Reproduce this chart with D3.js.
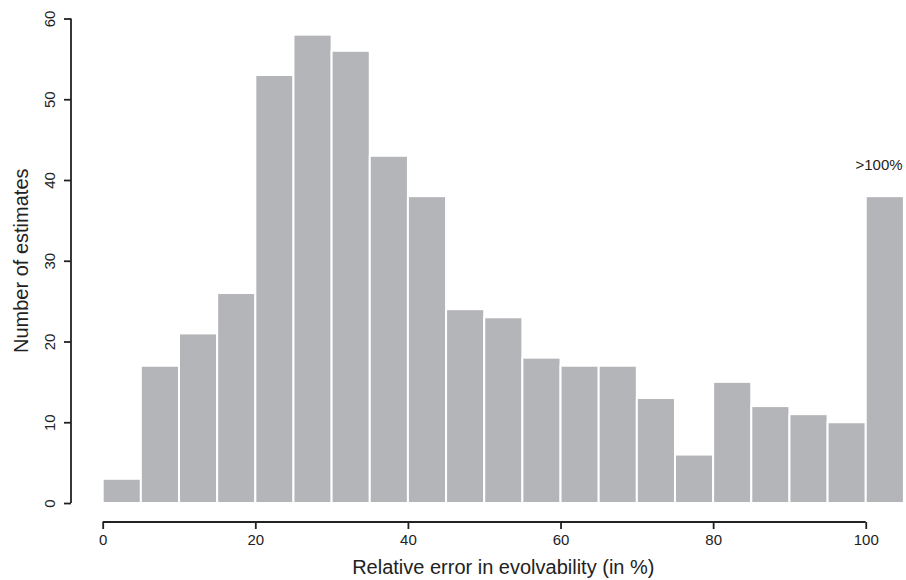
<!DOCTYPE html>
<html>
<head>
<meta charset="utf-8">
<script src="https://cdn.jsdelivr.net/npm/d3@7"></script>
<style>
  body { margin: 0; background: #fff; }
  text { font-family: "Liberation Sans", Arial, sans-serif; fill: #222; }
</style>
</head>
<body>
<script>
//Data

var binStart = [0, 5, 10, 15, 20, 25, 30, 35, 40, 45, 50, 55, 60, 65, 70, 75, 80, 85, 90, 95, 100];
var counts   = [3, 17, 21, 26, 53, 58, 56, 43, 38, 24, 23, 18, 17, 17, 13, 6, 15, 12, 11, 10, 38];
var xTicks = [0, 20, 40, 60, 80, 100];
var yTicks = [0, 10, 20, 30, 40, 50, 60];
var BIN = 5;

//Layout

var W = 906, H = 580;
var svg = d3.select("body").append("svg").attr("width", W).attr("height", H);

var x = d3.scaleLinear().domain([0, 105]).range([102.7, 903.9]);
var y = d3.scaleLinear().domain([0, 60]).range([503, 18.5]);

//Bars
svg.append("g")
  .selectAll("rect")
  .data(binStart)
  .enter()
  .append("rect")
    .attr("x", function(d){ return x(d); })
    .attr("y", function(d,i){ return y(counts[i]); })
    .attr("width", function(d){ return x(d + BIN) - x(d); })
    .attr("height", function(d,i){ return y(0) - y(counts[i]); })
    .attr("fill", "#b4b5b9")
    .attr("stroke", "#fff")
    .attr("stroke-width", 2);

//Axes (R-style, detached)
var xAxis = svg.append("g")
  .attr("transform", "translate(0,522)")
  .call(d3.axisBottom(x).tickValues(xTicks).tickSize(7).tickPadding(5).tickSizeOuter(0));
xAxis.select(".domain").attr("d", "M" + x(0) + ",0H" + x(100));

var yAxis = svg.append("g")
  .attr("transform", "translate(71,0)")
  .call(d3.axisLeft(y).tickValues(yTicks).tickSize(7).tickSizeOuter(0));
yAxis.select(".domain").attr("d", "M0," + y(0) + "V" + y(60));

[xAxis, yAxis].forEach(function(a){
  a.select(".domain").attr("stroke", "#222").attr("stroke-width", 1.8);
  a.selectAll(".tick line").attr("stroke", "#222").attr("stroke-width", 1.8);
  a.selectAll(".tick text")
    .style("font-family", "'Liberation Sans', Arial, sans-serif")
    .style("font-size", "15px")
    .attr("fill", "#222");
});

//rotated y tick labels like R's default las=0
yAxis.selectAll(".tick text")
  .attr("x", null).attr("dy", null)
  .attr("text-anchor", "middle")
  .attr("transform", "translate(-16,0) rotate(-90)");

//Axis titles
svg.append("text")
  .attr("x", (x(0) + x(105)) / 2)
  .attr("y", 573.5)
  .attr("text-anchor", "middle")
  .style("font-size", "20px")
  .text("Relative error in evolvability (in %)");

svg.append("text")
  .attr("transform", "translate(28," + (y(0) + y(60)) / 2 + ") rotate(-90)")
  .attr("text-anchor", "middle")
  .style("font-size", "20px")
  .text("Number of estimates");

//Overflow bin label
svg.append("text")
  .attr("x", 879)
  .attr("y", 170)
  .attr("text-anchor", "middle")
  .style("font-size", "15px")
  .text(">100%");
</script>
</body>
</html>
